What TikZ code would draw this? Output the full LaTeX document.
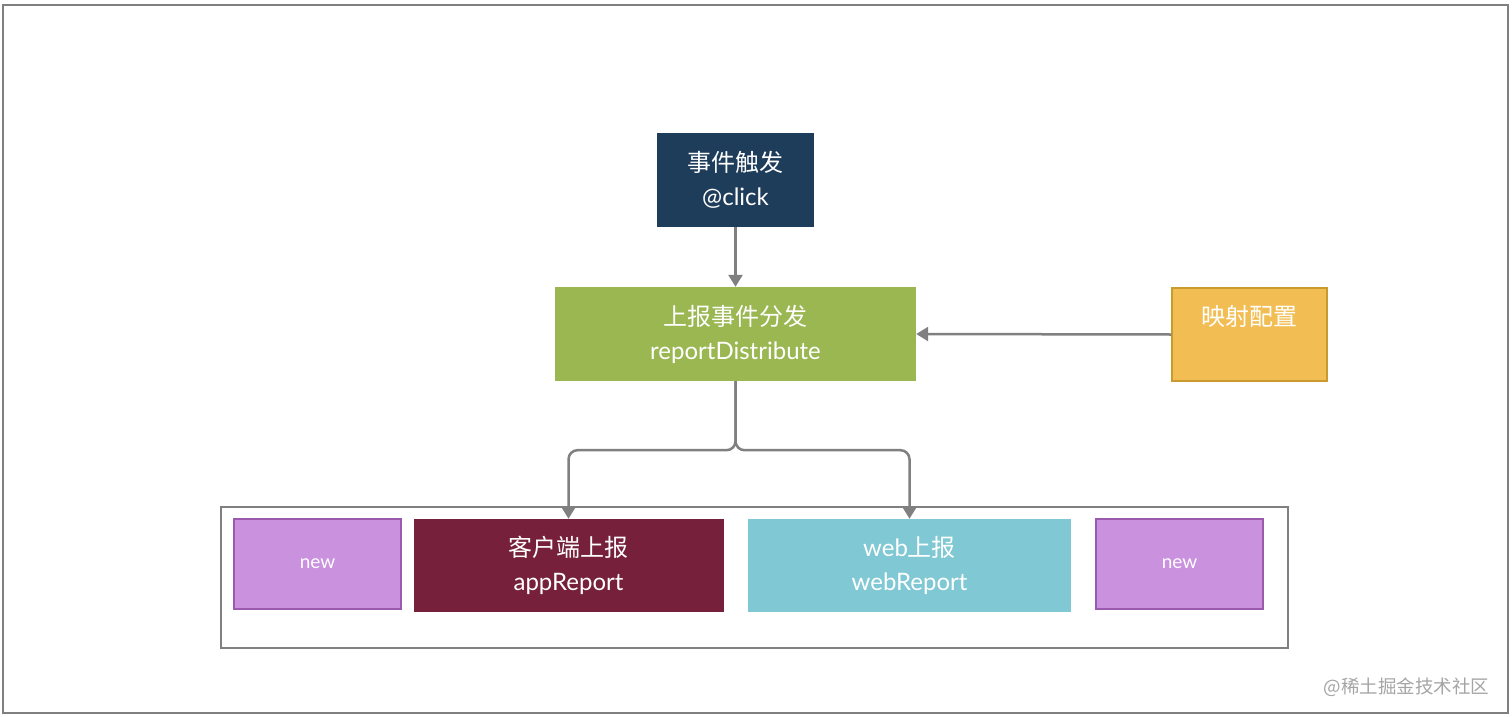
\documentclass[tikz,border=0pt]{standalone}
\usepackage{fontspec}
\setmainfont{Lato}
\newfontfamily\cjk{Noto Sans CJK SC}
\usetikzlibrary{arrows.meta}
\definecolor{dblue}{HTML}{1E3D5A}
\definecolor{lgreen}{HTML}{9AB752}
\definecolor{yfill}{HTML}{F2BD52}
\definecolor{ydraw}{HTML}{C99A2E}
\definecolor{pfill}{HTML}{C991DE}
\definecolor{pdraw}{HTML}{9A5BAF}
\definecolor{maroon}{HTML}{76203C}
\definecolor{cyanbox}{HTML}{80C8D4}
\definecolor{lgray}{HTML}{808080}
\definecolor{wmgray}{HTML}{A5A5A5}
\tikzset{
  box/.style={rectangle, inner sep=0pt, text=white, align=center,
    font=\fontsize{24}{34}\selectfont},
  newbox/.style={box, fill=pfill, draw=pdraw, line width=1.5pt,
    minimum width=167pt, minimum height=90pt, font=\fontsize{19}{22}\selectfont},
  conn/.style={draw=lgray, line width=2.5pt, rounded corners=9pt,
    -{Triangle[width=14pt,length=12pt]}},
  frame/.style={draw=lgray, line width=2pt},
}
\begin{document}
\begin{tikzpicture}[x=1pt,y=-1pt]
\useasboundingbox (0,0) rectangle (1512,717);
\fill[white] (0,0) rectangle (1512,717);
\node[frame, rectangle, minimum width=1505pt, minimum height=708pt, inner sep=0pt] (outer) at (755.5,359) {};
\node[frame, rectangle, minimum width=1067pt, minimum height=141pt, inner sep=0pt] (container) at (754.5,577.5) {};

\node[box, fill=dblue, minimum width=157pt, minimum height=94pt] (trigger) at (735.5,180) {{\cjk 事件触发}\\@click};
\node[box, fill=lgreen, minimum width=361pt, minimum height=94pt] (dist) at (735.5,334) {{\cjk 上报事件分发}\\reportDistribute};
\node[box, fill=yfill, draw=ydraw, line width=1.5pt, minimum width=155pt, minimum height=93pt, font=\fontsize{24}{29}\selectfont] (map) at (1249.5,334.5) {{\cjk 映射配置}\\\strut};

\node[newbox] (newl) at (317.5,564) {new};
\node[box, fill=maroon, minimum width=310pt, minimum height=93pt] (app) at (568.5,565.5) {{\cjk 客户端上报}\\appReport};
\node[box, fill=cyanbox, minimum width=323pt, minimum height=93pt] (web) at (909.5,565.5) {web{\cjk 上报}\\webReport};
\node[newbox] (newr) at (1179.5,564) {new};

\draw[conn] (trigger.south) -- (dist.north);
\draw[conn] (map.west) -- (dist.east);
\draw[conn] (dist.south) -- ++(0,69) -| (app.north);
\draw[conn] (dist.south) -- ++(0,69) -| (web.north);

\node[text=wmgray, font=\cjk\fontsize{18.5}{20}\selectfont, anchor=east] (wm) at (1493,687) {@稀土掘金技术社区};
\end{tikzpicture}
\end{document}
